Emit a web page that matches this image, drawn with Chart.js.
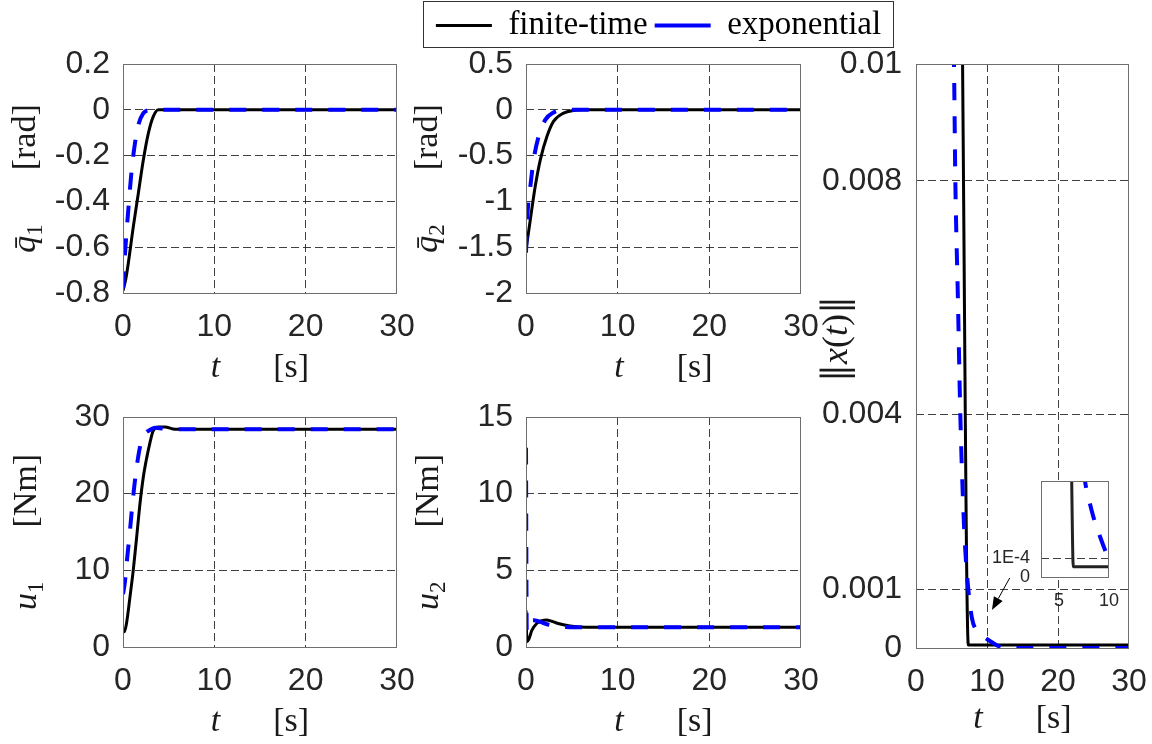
<!DOCTYPE html>
<html><head><meta charset="utf-8">
<script src="https://cdn.jsdelivr.net/npm/chart.js@4.4.1/dist/chart.umd.min.js"></script>
<style>
html,body{margin:0;padding:0;background:#fff;}
body{width:1152px;height:744px;position:relative;overflow:hidden;}
canvas{position:absolute;}
#legendBox{position:absolute;left:423px;top:1px;width:469px;height:45px;border:1px solid #333;background:#fff;z-index:10;overflow:hidden;}
#legendBox canvas{position:absolute;left:0;top:0;}
#inset{z-index:5;}
</style></head><body>
<div id="legendBox"><canvas id="leg" width="469" height="110"></canvas></div>
<canvas id="c1"></canvas>
<canvas id="c2"></canvas>
<canvas id="c3"></canvas>
<canvas id="c4"></canvas>
<canvas id="c5"></canvas>
<canvas id="inset"></canvas>
<script>
// ---------------- DATA ----------------
const seriesNames = ['finite-time', 'exponential'];

const timeTicks = [0, 10, 20, 30];
const timeTickLabels = ['0', '10', '20', '30'];

// q1 bar
const q1Ticks = [-0.8, -0.6, -0.4, -0.2, 0, 0.2];
const q1TickLabels = ['-0.8', '-0.6', '-0.4', '-0.2', '0', '0.2'];
const q1FiniteT = [0, 0.3, 0.58, 1.13, 1.68, 2.23, 2.78, 3.32, 3.87, 5, 30];
const q1FiniteV = [-0.79, -0.74, -0.67, -0.51, -0.364, -0.218, -0.102, -0.029, 0, 0, 0];
const q1ExpT = [0, 0.2, 0.58, 0.95, 1.31, 1.68, 2.23, 2.8, 3.5, 30];
const q1ExpV = [-0.78, -0.64, -0.437, -0.262, -0.146, -0.066, -0.015, -0.002, 0, 0];

// q2 bar
const q2Ticks = [-2, -1.5, -1, -0.5, 0, 0.5];
const q2TickLabels = ['-2', '-1.5', '-1', '-0.5', '0', '0.5'];
const q2FiniteT = [0, 0.47, 1.0, 1.56, 2.29, 3.0, 4.1, 5.2, 6.3, 30];
const q2FiniteV = [-1.53, -1.2, -0.84, -0.546, -0.29, -0.127, -0.036, -0.007, 0, 0];
const q2ExpT = [0, 0.15, 0.47, 0.83, 1.38, 2.1, 3.0, 4.1, 5.0, 30];
const q2ExpV = [-1.56, -1.16, -0.84, -0.546, -0.29, -0.11, -0.03, -0.003, 0, 0];

// u1
const u1Ticks = [0, 10, 20, 30];
const u1TickLabels = ['0', '10', '20', '30'];
const u1FiniteT = [0, 0.15, 0.4, 0.77, 1.13, 1.5, 1.86, 2.23, 2.6, 2.96, 3.3, 3.87, 4.6, 5.7, 30];
const u1FiniteV = [2.2, 2.0, 3.2, 6.6, 10.1, 14.4, 18.7, 22.2, 24.7, 26.7, 28.2, 28.7, 28.7, 28.4, 28.4];
const u1ExpT = [0, 0.2, 0.45, 0.77, 1.1, 1.5, 1.9, 2.4, 2.8, 3.5, 5, 30];
const u1ExpV = [6.9, 8.4, 11.5, 15.3, 19.5, 23.5, 26.3, 27.8, 28.2, 28.6, 28.4, 28.4];

// u2
const u2Ticks = [0, 5, 10, 15];
const u2TickLabels = ['0', '5', '10', '15'];
const u2FiniteT = [0, 0.1, 0.3, 0.65, 1.2, 1.75, 2.2, 2.8, 3.4, 4.8, 6.6, 30];
const u2FiniteV = [2.4, 0.35, 0.5, 1.1, 1.55, 1.72, 1.76, 1.68, 1.55, 1.37, 1.28, 1.28];
const u2ExpT = [0, 0.08, 0.3, 0.8, 1.5, 2.2, 2.9, 4.4, 6.0, 30];
const u2ExpV = [13, 1.0, 1.5, 1.75, 1.65, 1.5, 1.4, 1.3, 1.28, 1.28];

// ||x(t)||
const normTicks = [0, 0.001, 0.004, 0.008, 0.01];
const normTickLabels = ['0', '0.001', '0.004', '0.008', '0.01'];
const normFiniteT = [6.5, 7.37, 30];
const normFiniteV = [0.0108, 0.00005, 0.00005];
const normExpT = [5.2, 5.35, 5.54, 5.9, 6.24, 6.8, 7.37, 7.9, 8.55, 9.5, 10.4, 11.5, 12.3, 30];
const normExpV = [0.0108, 0.01, 0.008, 0.006, 0.004, 0.002, 0.001, 0.0005, 0.0003, 0.0002, 0.00012, 0.00004, 0, 0];

// inset (zoom of ||x(t)||)
const insetXTicks = [5, 10];
const insetXTickLabels = ['5', '10'];
const insetYTicks = [0, 0.0001];
const insetYTickLabels = ['0', '1E-4'];
const insetFiniteT = [6.25, 6.27, 6.43, 10.5];
const insetFiniteV = [0.0006, 0.000507, 0.000054, 0.000054];
const insetExpT = [7.5, 7.6, 7.93, 8.43, 9.1, 9.93, 10.3];
const insetExpV = [0.00056, 0.000507, 0.000424, 0.000319, 0.000214, 0.0001, 0.00006];

// ---------------- HELPERS ----------------
const pts = (ts, vs) => ts.map((t, i) => ({x: t, y: vs[i]}));
const SERIF = 'Liberation Serif';
const SANS = 'Liberation Sans';
const TICK_COLOR = '#262626';
const GRID_COLOR = 'rgba(30,30,30,0.85)';

function datasets(ft, fv, et, ev) {
  return [
    {label: seriesNames[0], data: pts(ft, fv), borderColor: '#000', borderWidth: 3,
     pointRadius: 0, cubicInterpolationMode: 'monotone', order: 2},
    {label: seriesNames[1], data: pts(et, ev), borderColor: '#0000ff', borderWidth: 4,
     borderDash: [17, 16], pointRadius: 0, cubicInterpolationMode: 'monotone', order: 1}
  ];
}

function drawRich(ctx, parts, cx, baseY, big) {
  const small = Math.round(big * 0.68);
  const items = parts.map(p => {
    if (p.gap) return {gap: p.gap, w: p.gap};
    const size = p.sub ? small : (p.size || big);
    const fam = p.family || SERIF;
    const font = (p.italic ? 'italic ' : '') + size + 'px "' + fam + '"';
    ctx.font = font;
    return {text: p.text, font, w: ctx.measureText(p.text).width, dy: p.sub ? Math.round(big * 0.2) : 0};
  });
  const total = items.reduce((a, b) => a + b.w, 0);
  let x = cx - total / 2;
  ctx.fillStyle = '#1a1a1a';
  ctx.textAlign = 'left';
  ctx.textBaseline = 'alphabetic';
  items.forEach(it => {
    if (it.text !== undefined) { ctx.font = it.font; ctx.fillText(it.text, x, baseY + it.dy); }
    x += it.w;
  });
}

const titleSpecs = {};
const arrowSpecs = {};

const framePlugin = {
  id: 'frame',
  beforeDraw(chart) {
    if (chart.canvas.id === 'inset') {
      const ca = chart.chartArea, ctx = chart.ctx;
      ctx.save(); ctx.fillStyle = '#fff';
      ctx.fillRect(ca.left, ca.top, ca.right - ca.left, ca.bottom - ca.top);
      ctx.restore();
    }
  },
  afterDatasetsDraw(chart) {
    const ca = chart.chartArea, ctx = chart.ctx;
    ctx.save();
    ctx.strokeStyle = '#6e6e6e'; ctx.lineWidth = 1; ctx.setLineDash([]);
    ctx.strokeRect(Math.round(ca.left) + 0.5, Math.round(ca.top) + 0.5,
                   Math.round(ca.right - ca.left) - 1, Math.round(ca.bottom - ca.top));
    ctx.restore();
    const arr = arrowSpecs[chart.canvas.id];
    if (arr) {
      const xs = chart.scales.x, ys = chart.scales.y;
      const x1 = xs.getPixelForValue(arr.from[0]), y1 = ys.getPixelForValue(arr.from[1]);
      const x2 = xs.getPixelForValue(arr.to[0]), y2 = ys.getPixelForValue(arr.to[1]);
      const ang = Math.atan2(y2 - y1, x2 - x1), hl = 13, hw = 5;
      ctx.save();
      ctx.strokeStyle = '#000'; ctx.fillStyle = '#000'; ctx.lineWidth = 1;
      ctx.beginPath(); ctx.moveTo(x1, y1);
      ctx.lineTo(x2 - hl * Math.cos(ang), y2 - hl * Math.sin(ang)); ctx.stroke();
      ctx.beginPath(); ctx.moveTo(x2, y2);
      ctx.lineTo(x2 - hl * Math.cos(ang) + hw * Math.sin(ang), y2 - hl * Math.sin(ang) - hw * Math.cos(ang));
      ctx.lineTo(x2 - hl * Math.cos(ang) - hw * Math.sin(ang), y2 - hl * Math.sin(ang) + hw * Math.cos(ang));
      ctx.closePath(); ctx.fill();
      ctx.restore();
    }
  },
  afterDraw(chart) {
    const spec = titleSpecs[chart.canvas.id];
    if (!spec) return;
    const ca = chart.chartArea, ctx = chart.ctx;
    ctx.save();
    if (spec.x) drawRich(ctx, spec.x, (ca.left + ca.right) / 2, ca.bottom + spec.xOff, 34);
    if (spec.y) {
      ctx.translate(ca.left - spec.yOff, (ca.top + ca.bottom) / 2 + (spec.yShift || 0));
      ctx.rotate(-Math.PI / 2);
      drawRich(ctx, spec.y, 0, 0, spec.ySize || 34);
    }
    ctx.restore();
  }
};

function makePanel(cfg) {
  const [L, T, R, B] = cfg.area;
  const m = cfg.margin;
  const cv = document.getElementById(cfg.id);
  const w = R - L + m.l + m.r, h = B - T + m.t + m.b;
  cv.width = w; cv.height = h;
  cv.style.left = (L - m.l) + 'px'; cv.style.top = (T - m.t) + 'px';
  cv.style.width = w + 'px'; cv.style.height = h + 'px';
  const gridFn = (lo, hi, show) => (c) => {
    const v = c.tick ? c.tick.value : NaN;
    return (show && v > lo + 1e-12 && v < hi - 1e-12) ? GRID_COLOR : 'rgba(0,0,0,0)';
  };
  return new Chart(cv, {
    type: 'line',
    data: {datasets: cfg.datasets},
    plugins: [framePlugin],
    options: {
      responsive: false, animation: false, devicePixelRatio: 1,
      layout: {padding: {left: 0, top: m.t, right: m.r, bottom: 0}},
      plugins: {legend: {display: false}, tooltip: {enabled: false}},
      scales: {
        x: {
          type: 'linear', min: cfg.xMin, max: cfg.xMax,
          afterBuildTicks: s => { s.ticks = cfg.xTicks.map(v => ({value: v})); },
          afterFit: s => { s.height = m.b; },
          ticks: {autoSkip: false, maxRotation: 0, minRotation: 0, padding: cfg.xPad, color: TICK_COLOR,
                  font: {family: SANS, size: cfg.fs}, callback: (v, i) => cfg.xLabels[i]},
          grid: {drawTicks: false, lineWidth: 1, color: gridFn(cfg.xMin, cfg.xMax, cfg.xGrid !== false)},
          border: {display: false, dash: [8, 4]}
        },
        y: {
          type: 'linear', min: cfg.yMin, max: cfg.yMax,
          afterBuildTicks: s => { s.ticks = cfg.yTicks.map(v => ({value: v})); },
          afterFit: s => { s.width = m.l; },
          ticks: {autoSkip: false, padding: cfg.yPad, color: TICK_COLOR,
                  font: {family: SANS, size: cfg.fs}, callback: (v, i) => cfg.yLabels[i]},
          grid: {drawTicks: false, lineWidth: 1, color: gridFn(cfg.yMin, cfg.yMax, true)},
          border: {display: false, dash: [8, 4]}
        }
      }
    }
  });
}

const xTitle = [{text: 't', italic: true}, {gap: 53}, {text: '[s]'}];
titleSpecs.c1 = {x: xTitle, xOff: 84, yOff: 88, y: [{text: 'q\u0304', italic: true}, {text: '1', sub: true}, {gap: 54}, {text: '[rad]'}]};
titleSpecs.c2 = {x: xTitle, xOff: 84, yOff: 89, y: [{text: 'q\u0304', italic: true}, {text: '2', sub: true}, {gap: 54}, {text: '[rad]'}]};
titleSpecs.c3 = {x: xTitle, xOff: 84, yOff: 87, y: [{text: 'u', italic: true}, {text: '1', sub: true}, {gap: 54}, {text: '[Nm]'}]};
titleSpecs.c4 = {x: xTitle, xOff: 84, yOff: 88, y: [{text: 'u', italic: true}, {text: '2', sub: true}, {gap: 54}, {text: '[Nm]'}]};
titleSpecs.c5 = {x: xTitle, xOff: 80, yOff: 69, yShift: -17, ySize: 36,
  y: [{text: '\u2016', family: 'DejaVu Serif'}, {text: 'x', italic: true}, {text: '('}, {text: 't', italic: true},
      {text: ')'}, {text: '\u2016', family: 'DejaVu Serif'}]};
arrowSpecs.c5 = {from: [13.2, 0.0012], to: [10.7, 0.00065]};

const common = {xMin: 0, xMax: 30, xTicks: timeTicks, xLabels: timeTickLabels, fs: 32, xPad: 15, yPad: 13};

makePanel(Object.assign({}, common, {id: 'c1', area: [123, 64, 397, 293], margin: {l: 123, t: 40, r: 40, b: 100},
  yMin: -0.8, yMax: 0.2, yTicks: q1Ticks, yLabels: q1TickLabels,
  datasets: datasets(q1FiniteT, q1FiniteV, q1ExpT, q1ExpV)}));
makePanel(Object.assign({}, common, {id: 'c2', area: [526, 64, 801, 293], margin: {l: 126, t: 40, r: 40, b: 100},
  yMin: -2, yMax: 0.5, yTicks: q2Ticks, yLabels: q2TickLabels,
  datasets: datasets(q2FiniteT, q2FiniteV, q2ExpT, q2ExpV)}));
makePanel(Object.assign({}, common, {id: 'c3', area: [123, 417, 397, 647], margin: {l: 123, t: 40, r: 40, b: 97},
  yMin: 0, yMax: 30, yTicks: u1Ticks, yLabels: u1TickLabels,
  datasets: datasets(u1FiniteT, u1FiniteV, u1ExpT, u1ExpV)}));
makePanel(Object.assign({}, common, {id: 'c4', area: [526, 417, 801, 647], margin: {l: 126, t: 40, r: 40, b: 97},
  yMin: 0, yMax: 15, yTicks: u2Ticks, yLabels: u2TickLabels,
  datasets: datasets(u2FiniteT, u2FiniteV, u2ExpT, u2ExpV)}));
makePanel(Object.assign({}, common, {id: 'c5', area: [916, 64, 1129, 648], margin: {l: 116, t: 40, r: 40, b: 96},
  yMin: 0, yMax: 0.01, yTicks: normTicks, yLabels: normTickLabels, yPad: 14,
  datasets: datasets(normFiniteT, normFiniteV, normExpT, normExpV)}));
const insetDs = datasets(insetFiniteT, insetFiniteV, insetExpT, insetExpV);
insetDs[0].borderColor = '#222';
makePanel({id: 'inset', area: [1041, 481, 1109, 577], margin: {l: 52, t: 26, r: 26, b: 34},
  xMin: 3.2, xMax: 10, xTicks: insetXTicks, xLabels: insetXTickLabels, xGrid: false,
  yMin: 0, yMax: 0.000507, yTicks: insetYTicks, yLabels: insetYTickLabels,
  fs: 18, xPad: 13, yPad: 11, datasets: insetDs});

// ---------------- LEGEND ----------------
new Chart(document.getElementById('leg'), {
  type: 'line',
  data: {datasets: [
    {label: seriesNames[0], data: [], borderColor: '#000', borderWidth: 3},
    {label: seriesNames[1], data: [], borderColor: '#0000ff', borderWidth: 4, borderDash: [12, 20], borderDashOffset: 2}
  ]},
  options: {
    responsive: false, animation: false, devicePixelRatio: 1,
    layout: {padding: 0},
    scales: {x: {display: false}, y: {display: false}},
    plugins: {
      tooltip: {enabled: false},
      legend: {display: true, position: 'top', align: 'center',
        labels: {usePointStyle: true, pointStyle: 'line', pointStyleWidth: 56, boxHeight: 30,
                 padding: 7, color: '#000', font: {family: SERIF, size: 33}}}
    }
  }
});
</script>
</body></html>
